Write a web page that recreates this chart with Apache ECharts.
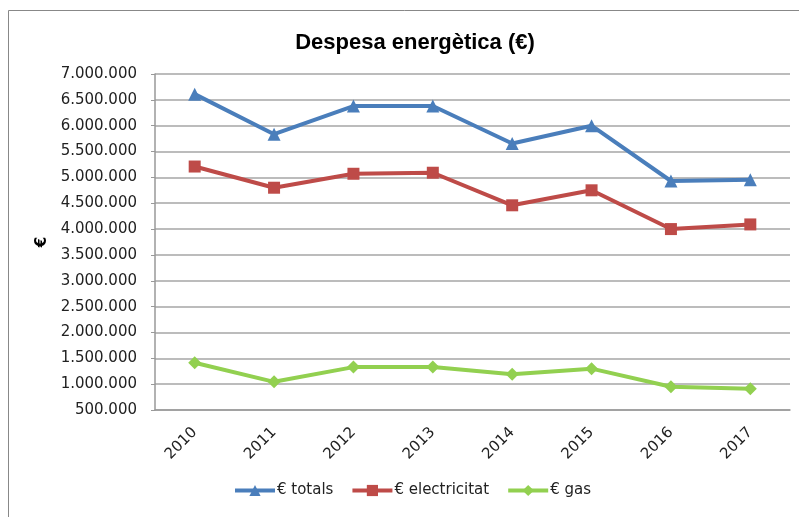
<!DOCTYPE html>
<html><head><meta charset="utf-8">
<script src="https://cdn.jsdelivr.net/npm/echarts@6/dist/echarts.min.js"></script>
<style>html,body{margin:0;padding:0;background:#fff}#c{width:799px;height:517px}</style>
</head><body><div id="c"></div>
<script>
const categories = ['2010','2011','2012','2013','2014','2015','2016','2017'];
const totals = [6610000, 5835000, 6380000, 6380000, 5655000, 6000000, 4930000, 4955000];
const electricitat = [5210000, 4800000, 5070000, 5090000, 4460000, 4750000, 4000000, 4090000];
const gas = [1415000, 1045000, 1330000, 1330000, 1190000, 1300000, 950000, 910000];
const seriesNames = ['€ totals', '€ electricitat', '€ gas'];
const titleText = 'Despesa energètica (€)';
const yAxisName = '€';
const yMin = 500000, yMax = 7000000, yStep = 500000;

function fmt(v){ return String(v).replace(/\B(?=(\d{3})+(?!\d))/g, '.'); }
const font = 'DejaVu Sans';
const chart = echarts.init(document.getElementById('c'), null, {renderer:'canvas'});
chart.setOption({
  animation:false,
  backgroundColor:'#fff',
  graphic:[{type:'rect', shape:{x:8.5,y:10.5,width:820,height:540}, style:{fill:'none', stroke:'#888', lineWidth:1}, z:-1}],
  title:{text:titleText, left:410, top:27, textAlign:'center',
    textStyle:{fontFamily:'Liberation Sans', fontWeight:'bold', fontSize:22, color:'#000'}},
  grid:{left:155, right:9, top:74, bottom:107},
  legend:{bottom:14, left:228, itemWidth:40, itemHeight:14, itemGap:17,
    lineStyle:{width:4},
    textStyle:{fontFamily:font, fontSize:15, color:'#222', padding:[0,0,0,-3]}, data:seriesNames},
  xAxis:{type:'category', data:categories, boundaryGap:true,
    axisLine:{lineStyle:{color:'#999', width:1.5}}, axisTick:{show:false},
    axisLabel:{rotate:45, margin:20, fontFamily:font, fontSize:15, color:'#222'}},
  yAxis:{type:'value', min:yMin, max:yMax, interval:yStep,
    name:yAxisName, nameLocation:'middle', nameRotate:90, nameGap:104,
    nameTextStyle:{fontFamily:font, fontWeight:'bold', fontSize:15, color:'#000'},
    axisLine:{show:true, lineStyle:{color:'#999', width:1.5}},
    axisTick:{show:true, length:4, lineStyle:{color:'#999'}},
    splitLine:{lineStyle:{color:'#a6a6a6', width:1.5}},
    axisLabel:{formatter:fmt, margin:18, fontFamily:font, fontSize:15, color:'#222'}},
  series:[
    {name:seriesNames[0], type:'line', data:totals, symbol:'triangle', symbolSize:13,
      lineStyle:{width:4, color:'#4A7EBB'}, itemStyle:{color:'#4A7EBB'}},
    {name:seriesNames[1], type:'line', data:electricitat, symbol:'rect', symbolSize:12,
      lineStyle:{width:4, color:'#BE4B48'}, itemStyle:{color:'#BE4B48'}},
    {name:seriesNames[2], type:'line', data:gas, symbol:'diamond', symbolSize:13,
      lineStyle:{width:4, color:'#92D050'}, itemStyle:{color:'#92D050'}}
  ]
});
</script></body></html>
